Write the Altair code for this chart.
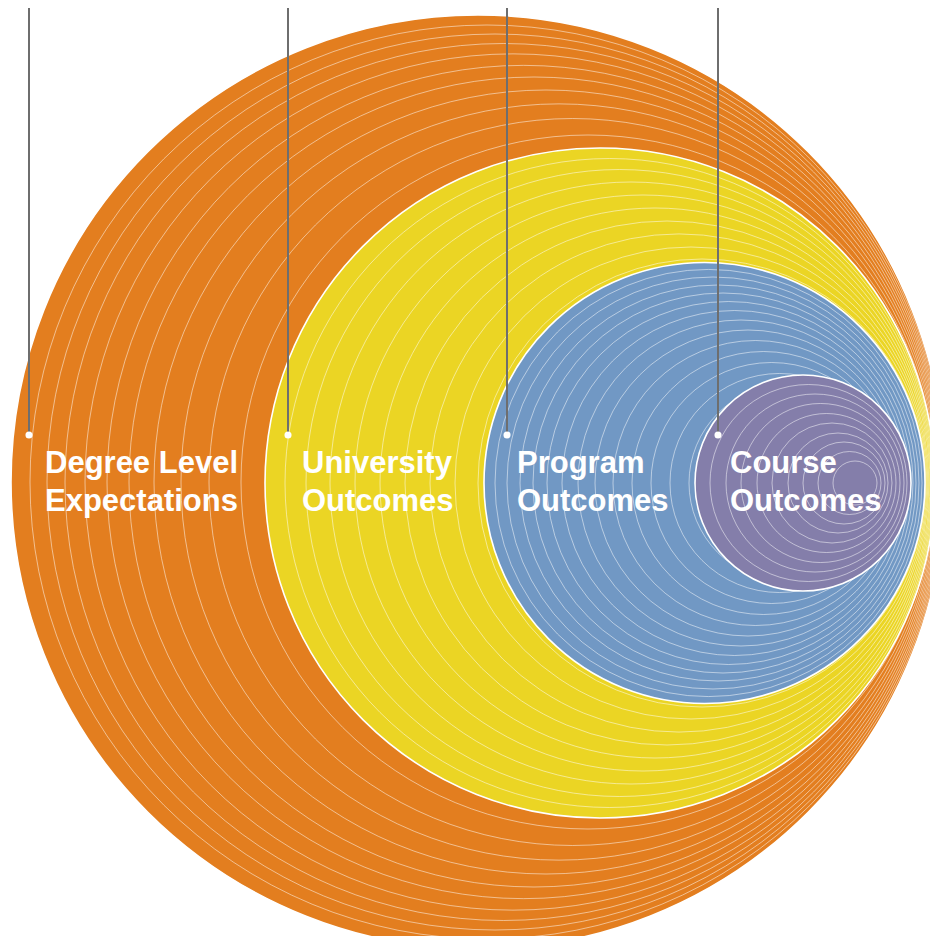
import altair as alt
import pandas as pd

# ---- data (page pixel units) ----
groups = ["Degree Level Expectations", "University Outcomes", "Program Outcomes", "Course Outcomes"]
colors = ["#E37E1F", "#EBD524", "#7198C4", "#847EAA"]
center_y = [482, 483, 483, 483]

orange_left = [11, 30, 47, 65, 85, 107, 129, 154, 181, 209, 241]
orange_right = [945, 944, 943, 942, 941, 940, 939, 938, 937, 936, 935]
yellow_left = [265, 285, 306, 330, 355, 380, 405, 430, 455, 478, 500]
yellow_right = [935, 934, 933, 932, 931, 930, 929, 928, 927, 926, 925]
blue_left = [484, 495, 507, 520, 533, 547, 562, 578, 595, 613, 632, 651, 670, 689]
blue_right = [925, 922, 919, 916, 913, 910, 907, 904, 901, 898, 895, 892, 889, 886]
purple_left = [695, 710, 726, 741, 757, 772, 788, 803, 818, 833]
purple_right = [911, 907, 904, 900, 896, 892, 888, 885, 881, 877]

left_edges = [orange_left, yellow_left, blue_left, purple_left]
right_edges = [orange_right, yellow_right, blue_right, purple_right]

leader_x = [29, 288, 507, 718]
leader_top = [0, 0, 0, 0]
leader_dot_y = [435, 435, 435, 435]

label_x = [45, 302, 517, 730]
label_line1 = ["Degree Level", "University", "Program", "Course"]
label_line2 = ["Expectations", "Outcomes", "Outcomes", "Outcomes"]
baseline1 = 473
baseline2 = 511

# ---- tables ----
rows = []
seq = 0
for g, cy, Ls, Rs in zip(groups, center_y, left_edges, right_edges):
    for i, (L, R) in enumerate(zip(Ls, Rs)):
        rows.append({"group": g, "ring": i, "left": L, "right": R, "cy": cy, "seq": seq})
        seq += 1
rings = pd.DataFrame(rows)

leaders = pd.DataFrame({"x": leader_x, "top": leader_top, "dot": leader_dot_y})

lab_rows = []
for x, a, b in zip(label_x, label_line1, label_line2):
    lab_rows.append({"x": x, "y": baseline1, "text": a})
    lab_rows.append({"x": x, "y": baseline2, "text": b})
labels = pd.DataFrame(lab_rows)

W, H = 922, 928
xs = alt.Scale(domain=[8, 8 + W], nice=False, zero=False)
ys = alt.Scale(domain=[8, 8 + H], nice=False, zero=False, reverse=True)

circles = alt.Chart(rings).transform_calculate(
    cx="(datum.left + datum.right) / 2",
    r2="((datum.right - datum.left) / 2) * ((datum.right - datum.left) / 2)",
).mark_point(shape="circle", filled=True, clip=True, opacity=1).encode(
    x=alt.X("cx:Q", scale=xs, axis=None),
    y=alt.Y("cy:Q", scale=ys, axis=None),
    size=alt.Size("r2:Q", scale=alt.Scale(type="linear", domain=[0, 250000], range=[0, 1000000]), legend=None),
    fill=alt.Fill("group:N", scale=alt.Scale(domain=groups, range=colors), legend=None),
    stroke=alt.value("white"),
    strokeWidth=alt.when(alt.datum.ring == 0).then(alt.value(1.6)).otherwise(alt.value(1.0)),
    strokeOpacity=alt.when(alt.datum.ring == 0).then(alt.value(1.0)).otherwise(alt.value(0.5)),
    order=alt.Order("seq:Q"),
)

lines = alt.Chart(leaders).mark_rule(color="#6E6E6E", strokeWidth=2, clip=True).encode(
    x=alt.X("x:Q", scale=xs, axis=None),
    y=alt.Y("top:Q", scale=ys, axis=None),
    y2="dot:Q",
)

dots = alt.Chart(leaders).mark_point(shape="circle", filled=True, color="white", opacity=1, size=50).encode(
    x=alt.X("x:Q", scale=xs, axis=None),
    y=alt.Y("dot:Q", scale=ys, axis=None),
)

texts = alt.Chart(labels).mark_text(
    align="left", baseline="alphabetic", font="Liberation Sans", fontWeight="bold",
    fontSize=31, color="white",
).encode(
    x=alt.X("x:Q", scale=xs, axis=None),
    y=alt.Y("y:Q", scale=ys, axis=None),
    text="text:N",
)

chart = alt.layer(circles, lines, dots, texts).properties(
    width=W, height=H, padding=0, autosize=alt.AutoSizeParams(type="none"),
    background="white",
).configure_view(stroke=None)

chart.save("out.html", embed_options={"renderer": "svg", "actions": False})
